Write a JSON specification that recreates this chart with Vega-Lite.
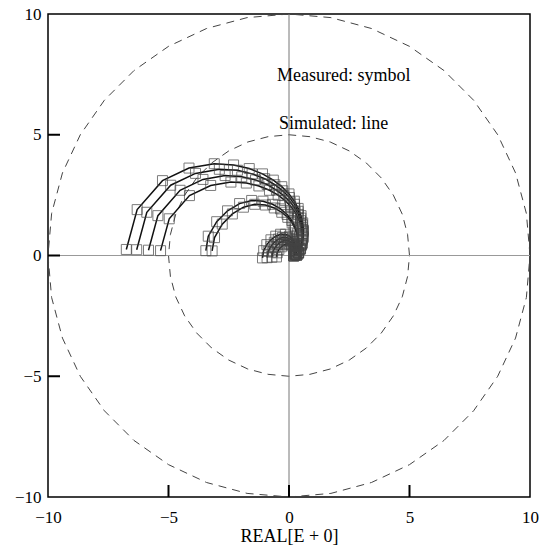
{
  "$schema": "https://vega.github.io/schema/vega-lite/v6.json",
  "autosize": {"type": "none"},
  "padding": {"left": 48, "top": 14, "right": 21, "bottom": 52},
  "width": 482,
  "height": 483,
  "background": "white",
  "config": {
    "view": {"stroke": "black", "strokeWidth": 1.5},
    "axis": {
      "labelFont": "Liberation Serif",
      "titleFont": "Liberation Serif",
      "labelFontSize": 17,
      "titleFontSize": 18,
      "labelColor": "black",
      "titleColor": "black",
      "titleFontWeight": "normal",
      "domain": false,
      "grid": false,
      "ticks": false,
      "labelFlush": false
    }
  },
  "datasets": {
    "circles": [
      {"c":"r10","x":10,"y":0},{"c":"r10","x":9.85,"y":1.74},{"c":"r10","x":9.4,"y":3.42},{"c":"r10","x":8.66,"y":5},{"c":"r10","x":7.66,"y":6.43},{"c":"r10","x":6.43,"y":7.66},{"c":"r10","x":5,"y":8.66},{"c":"r10","x":3.42,"y":9.4},{"c":"r10","x":1.74,"y":9.85},{"c":"r10","x":0,"y":10},{"c":"r10","x":-1.74,"y":9.85},{"c":"r10","x":-3.42,"y":9.4},{"c":"r10","x":-5,"y":8.66},{"c":"r10","x":-6.43,"y":7.66},{"c":"r10","x":-7.66,"y":6.43},{"c":"r10","x":-8.66,"y":5},{"c":"r10","x":-9.4,"y":3.42},{"c":"r10","x":-9.85,"y":1.74},{"c":"r10","x":-10,"y":0},{"c":"r10","x":-9.85,"y":-1.74},{"c":"r10","x":-9.4,"y":-3.42},{"c":"r10","x":-8.66,"y":-5},{"c":"r10","x":-7.66,"y":-6.43},{"c":"r10","x":-6.43,"y":-7.66},{"c":"r10","x":-5,"y":-8.66},{"c":"r10","x":-3.42,"y":-9.4},{"c":"r10","x":-1.74,"y":-9.85},{"c":"r10","x":0,"y":-10},{"c":"r10","x":1.74,"y":-9.85},{"c":"r10","x":3.42,"y":-9.4},{"c":"r10","x":5,"y":-8.66},{"c":"r10","x":6.43,"y":-7.66},{"c":"r10","x":7.66,"y":-6.43},{"c":"r10","x":8.66,"y":-5},{"c":"r10","x":9.4,"y":-3.42},{"c":"r10","x":9.85,"y":-1.74},{"c":"r10","x":10,"y":0},
      {"c":"r5","x":5,"y":0},{"c":"r5","x":4.92,"y":0.87},{"c":"r5","x":4.7,"y":1.71},{"c":"r5","x":4.33,"y":2.5},{"c":"r5","x":3.83,"y":3.21},{"c":"r5","x":3.21,"y":3.83},{"c":"r5","x":2.5,"y":4.33},{"c":"r5","x":1.71,"y":4.7},{"c":"r5","x":0.87,"y":4.92},{"c":"r5","x":0,"y":5},{"c":"r5","x":-0.87,"y":4.92},{"c":"r5","x":-1.71,"y":4.7},{"c":"r5","x":-2.5,"y":4.33},{"c":"r5","x":-3.21,"y":3.83},{"c":"r5","x":-3.83,"y":3.21},{"c":"r5","x":-4.33,"y":2.5},{"c":"r5","x":-4.7,"y":1.71},{"c":"r5","x":-4.92,"y":0.87},{"c":"r5","x":-5,"y":0},{"c":"r5","x":-4.92,"y":-0.87},{"c":"r5","x":-4.7,"y":-1.71},{"c":"r5","x":-4.33,"y":-2.5},{"c":"r5","x":-3.83,"y":-3.21},{"c":"r5","x":-3.21,"y":-3.83},{"c":"r5","x":-2.5,"y":-4.33},{"c":"r5","x":-1.71,"y":-4.7},{"c":"r5","x":-0.87,"y":-4.92},{"c":"r5","x":0,"y":-5},{"c":"r5","x":0.87,"y":-4.92},{"c":"r5","x":1.71,"y":-4.7},{"c":"r5","x":2.5,"y":-4.33},{"c":"r5","x":3.21,"y":-3.83},{"c":"r5","x":3.83,"y":-3.21},{"c":"r5","x":4.33,"y":-2.5},{"c":"r5","x":4.7,"y":-1.71},{"c":"r5","x":4.92,"y":-0.87},{"c":"r5","x":5,"y":0}
    ],
    "ticks": [{"v": -5}, {"v": 0}, {"v": 5}],
    "curves": [
      {"s":"A1","x":-6.75,"y":0.25},{"s":"A1","x":-6.3,"y":1.9},{"s":"A1","x":-5.25,"y":3.1},{"s":"A1","x":-4.15,"y":3.62},{"s":"A1","x":-3.1,"y":3.8},{"s":"A1","x":-2.3,"y":3.75},{"s":"A1","x":-1.65,"y":3.6},{"s":"A1","x":-1.1,"y":3.38},{"s":"A1","x":-0.65,"y":3.12},{"s":"A1","x":-0.3,"y":2.85},{"s":"A1","x":0,"y":2.55},{"s":"A1","x":0.22,"y":2.25},{"s":"A1","x":0.38,"y":1.95},{"s":"A1","x":0.5,"y":1.65},{"s":"A1","x":0.57,"y":1.35},{"s":"A1","x":0.6,"y":1.05},{"s":"A1","x":0.59,"y":0.78},{"s":"A1","x":0.55,"y":0.52},{"s":"A1","x":0.48,"y":0.3},{"s":"A1","x":0.4,"y":0.12},{"s":"A1","x":0.32,"y":0.02},
      {"s":"A2","x":-6.32,"y":0.24},{"s":"A2","x":-5.9,"y":1.79},{"s":"A2","x":-4.91,"y":2.91},{"s":"A2","x":-3.88,"y":3.4},{"s":"A2","x":-2.89,"y":3.57},{"s":"A2","x":-2.14,"y":3.53},{"s":"A2","x":-1.53,"y":3.38},{"s":"A2","x":-1.01,"y":3.18},{"s":"A2","x":-0.59,"y":2.93},{"s":"A2","x":-0.26,"y":2.68},{"s":"A2","x":0.02,"y":2.4},{"s":"A2","x":0.23,"y":2.12},{"s":"A2","x":0.38,"y":1.83},{"s":"A2","x":0.49,"y":1.55},{"s":"A2","x":0.56,"y":1.27},{"s":"A2","x":0.59,"y":0.99},{"s":"A2","x":0.58,"y":0.73},{"s":"A2","x":0.54,"y":0.49},{"s":"A2","x":0.47,"y":0.28},{"s":"A2","x":0.4,"y":0.11},{"s":"A2","x":0.32,"y":0.02},
      {"s":"A3","x":-5.83,"y":0.22},{"s":"A3","x":-5.44,"y":1.65},{"s":"A3","x":-4.52,"y":2.7},{"s":"A3","x":-3.57,"y":3.15},{"s":"A3","x":-2.65,"y":3.31},{"s":"A3","x":-1.96,"y":3.26},{"s":"A3","x":-1.39,"y":3.13},{"s":"A3","x":-0.91,"y":2.94},{"s":"A3","x":-0.52,"y":2.71},{"s":"A3","x":-0.22,"y":2.48},{"s":"A3","x":0.05,"y":2.22},{"s":"A3","x":0.24,"y":1.96},{"s":"A3","x":0.38,"y":1.7},{"s":"A3","x":0.48,"y":1.44},{"s":"A3","x":0.54,"y":1.17},{"s":"A3","x":0.57,"y":0.91},{"s":"A3","x":0.56,"y":0.68},{"s":"A3","x":0.52,"y":0.45},{"s":"A3","x":0.46,"y":0.26},{"s":"A3","x":0.39,"y":0.1},{"s":"A3","x":0.32,"y":0.02},
      {"s":"A4","x":-5.33,"y":0.2},{"s":"A4","x":-4.97,"y":1.52},{"s":"A4","x":-4.13,"y":2.48},{"s":"A4","x":-3.25,"y":2.9},{"s":"A4","x":-2.41,"y":3.04},{"s":"A4","x":-1.77,"y":3},{"s":"A4","x":-1.25,"y":2.88},{"s":"A4","x":-0.81,"y":2.7},{"s":"A4","x":-0.45,"y":2.5},{"s":"A4","x":-0.17,"y":2.28},{"s":"A4","x":0.07,"y":2.04},{"s":"A4","x":0.25,"y":1.8},{"s":"A4","x":0.37,"y":1.56},{"s":"A4","x":0.47,"y":1.32},{"s":"A4","x":0.53,"y":1.08},{"s":"A4","x":0.55,"y":0.84},{"s":"A4","x":0.54,"y":0.62},{"s":"A4","x":0.51,"y":0.42},{"s":"A4","x":0.45,"y":0.24},{"s":"A4","x":0.39,"y":0.1},{"s":"A4","x":0.33,"y":0.02},
      {"s":"B1","x":-3.45,"y":0.2},{"s":"B1","x":-3.35,"y":0.8},{"s":"B1","x":-3,"y":1.4},{"s":"B1","x":-2.55,"y":1.85},{"s":"B1","x":-2.05,"y":2.15},{"s":"B1","x":-1.55,"y":2.28},{"s":"B1","x":-1.08,"y":2.25},{"s":"B1","x":-0.68,"y":2.12},{"s":"B1","x":-0.35,"y":1.93},{"s":"B1","x":-0.08,"y":1.7},{"s":"B1","x":0.12,"y":1.45},{"s":"B1","x":0.26,"y":1.18},{"s":"B1","x":0.34,"y":0.9},{"s":"B1","x":0.37,"y":0.64},{"s":"B1","x":0.36,"y":0.4},{"s":"B1","x":0.32,"y":0.2},{"s":"B1","x":0.27,"y":0.05},
      {"s":"B2","x":-3.19,"y":0.19},{"s":"B2","x":-3.09,"y":0.74},{"s":"B2","x":-2.77,"y":1.3},{"s":"B2","x":-2.35,"y":1.72},{"s":"B2","x":-1.89,"y":2},{"s":"B2","x":-1.42,"y":2.12},{"s":"B2","x":-0.98,"y":2.09},{"s":"B2","x":-0.61,"y":1.97},{"s":"B2","x":-0.3,"y":1.79},{"s":"B2","x":-0.05,"y":1.58},{"s":"B2","x":0.13,"y":1.35},{"s":"B2","x":0.26,"y":1.1},{"s":"B2","x":0.34,"y":0.84},{"s":"B2","x":0.37,"y":0.6},{"s":"B2","x":0.36,"y":0.37},{"s":"B2","x":0.32,"y":0.19},{"s":"B2","x":0.27,"y":0.05},
      {"s":"C1","x":-1.1,"y":-0.1},{"s":"C1","x":-1.05,"y":0.2},{"s":"C1","x":-0.92,"y":0.45},{"s":"C1","x":-0.75,"y":0.65},{"s":"C1","x":-0.55,"y":0.8},{"s":"C1","x":-0.35,"y":0.88},{"s":"C1","x":-0.15,"y":0.88},{"s":"C1","x":0.02,"y":0.8},{"s":"C1","x":0.15,"y":0.68},{"s":"C1","x":0.24,"y":0.52},{"s":"C1","x":0.28,"y":0.36},{"s":"C1","x":0.28,"y":0.2},{"s":"C1","x":0.25,"y":0.07},{"s":"C1","x":0.2,"y":-0.02},
      {"s":"C2","x":-0.91,"y":-0.09},{"s":"C2","x":-0.86,"y":0.17},{"s":"C2","x":-0.75,"y":0.38},{"s":"C2","x":-0.61,"y":0.55},{"s":"C2","x":-0.44,"y":0.68},{"s":"C2","x":-0.27,"y":0.75},{"s":"C2","x":-0.1,"y":0.75},{"s":"C2","x":0.05,"y":0.68},{"s":"C2","x":0.16,"y":0.58},{"s":"C2","x":0.23,"y":0.44},{"s":"C2","x":0.27,"y":0.31},{"s":"C2","x":0.27,"y":0.17},{"s":"C2","x":0.24,"y":0.06},{"s":"C2","x":0.2,"y":-0.02},
      {"s":"C3","x":-0.71,"y":-0.07},{"s":"C3","x":-0.68,"y":0.14},{"s":"C3","x":-0.58,"y":0.32},{"s":"C3","x":-0.47,"y":0.46},{"s":"C3","x":-0.33,"y":0.56},{"s":"C3","x":-0.19,"y":0.62},{"s":"C3","x":-0.05,"y":0.62},{"s":"C3","x":0.07,"y":0.56},{"s":"C3","x":0.17,"y":0.48},{"s":"C3","x":0.23,"y":0.36},{"s":"C3","x":0.26,"y":0.25},{"s":"C3","x":0.26,"y":0.14},{"s":"C3","x":0.24,"y":0.05},{"s":"C3","x":0.2,"y":-0.01},
      {"s":"C4","x":-0.52,"y":-0.06},{"s":"C4","x":-0.49,"y":0.11},{"s":"C4","x":-0.42,"y":0.25},{"s":"C4","x":-0.32,"y":0.36},{"s":"C4","x":-0.21,"y":0.44},{"s":"C4","x":-0.1,"y":0.48},{"s":"C4","x":0.01,"y":0.48},{"s":"C4","x":0.1,"y":0.44},{"s":"C4","x":0.17,"y":0.37},{"s":"C4","x":0.22,"y":0.29},{"s":"C4","x":0.24,"y":0.2},{"s":"C4","x":0.24,"y":0.11},{"s":"C4","x":0.23,"y":0.04},{"s":"C4","x":0.2,"y":-0.01}
    ],
    "notes": [
      {"x": -0.5, "y": 7.43, "t": "Measured: symbol"},
      {"x": -0.42, "y": 5.44, "t": "Simulated: line"}
    ]
  },
  "layer": [
    {
      "data": {"name": "circles"},
      "mark": {"type": "line", "stroke": "#444444", "strokeWidth": 1, "strokeDash": [8, 6], "clip": true},
      "encoding": {
        "x": {"field": "x", "type": "quantitative", "scale": {"domain": [-10, 10], "nice": false, "zero": false},
              "axis": {"values": [-10, -5, 0, 5, 10], "title": "REAL[E + 0]", "titlePadding": 2, "labelPadding": 12}},
        "y": {"field": "y", "type": "quantitative", "scale": {"domain": [-10, 10], "nice": false, "zero": false},
              "axis": {"values": [-10, -5, 0, 5, 10], "title": null, "labelPadding": 7}},
        "detail": {"field": "c"},
        "order": {"value": null}
      }
    },
    {
      "data": {"values": [{}]},
      "mark": {"type": "rule", "stroke": "#777777", "strokeWidth": 1},
      "encoding": {"x": {"datum": 0, "type": "quantitative"}}
    },
    {
      "data": {"values": [{}]},
      "mark": {"type": "rule", "stroke": "#999999", "strokeWidth": 1},
      "encoding": {"y": {"datum": 0, "type": "quantitative"}}
    },
    {
      "data": {"name": "ticks"},
      "mark": {"type": "tick", "orient": "vertical", "size": 24, "thickness": 2, "color": "black", "opacity": 1, "clip": true},
      "encoding": {
        "x": {"field": "v", "type": "quantitative"},
        "y": {"datum": -10, "type": "quantitative"}
      }
    },
    {
      "data": {"name": "ticks"},
      "mark": {"type": "tick", "orient": "horizontal", "size": 24, "thickness": 2, "color": "black", "opacity": 1, "clip": true},
      "encoding": {
        "y": {"field": "v", "type": "quantitative"},
        "x": {"datum": -10, "type": "quantitative"}
      }
    },
    {
      "data": {"name": "curves"},
      "mark": {"type": "line", "stroke": "#111111", "strokeWidth": 1.5},
      "encoding": {
        "x": {"field": "x", "type": "quantitative"},
        "y": {"field": "y", "type": "quantitative"},
        "detail": {"field": "s"},
        "order": {"value": null}
      }
    },
    {
      "data": {"name": "curves"},
      "mark": {"type": "point", "shape": "square", "filled": false, "size": 100, "stroke": "#444444", "strokeWidth": 1},
      "encoding": {
        "x": {"field": "x", "type": "quantitative"},
        "y": {"field": "y", "type": "quantitative"}
      }
    },
    {
      "data": {"name": "notes"},
      "mark": {"type": "text", "align": "left", "baseline": "middle", "font": "Liberation Serif", "fontSize": 18, "color": "black"},
      "encoding": {
        "x": {"field": "x", "type": "quantitative"},
        "y": {"field": "y", "type": "quantitative"},
        "text": {"field": "t"}
      }
    }
  ]
}
